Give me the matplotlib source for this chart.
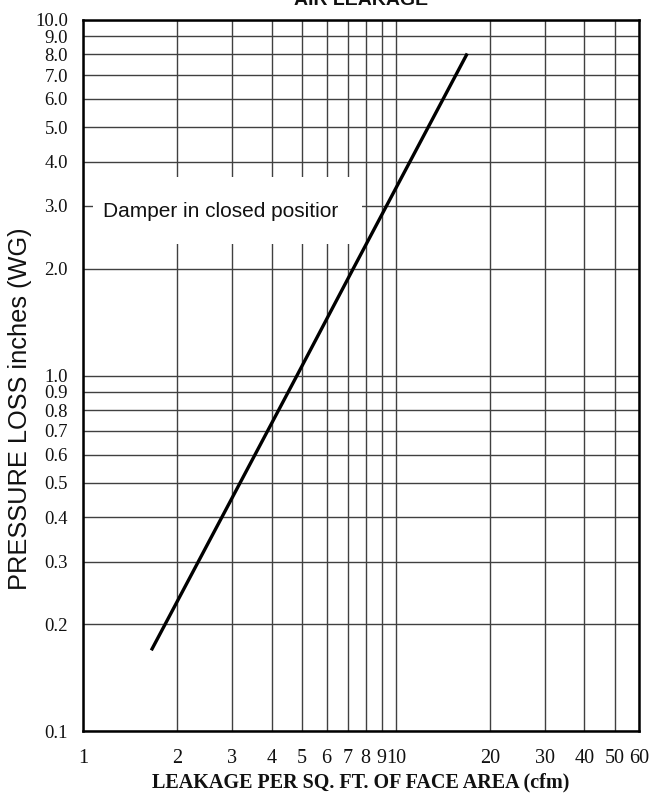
import matplotlib
matplotlib.use("Agg")
import matplotlib.pyplot as plt
from matplotlib.patches import Rectangle
from matplotlib.ticker import FixedLocator, NullLocator
from matplotlib.transforms import ScaledTranslation

# Data
leakage_cfm = [1.65, 4.82, 7.3, 16.9]
pressure_wg = [0.169, 1.0, 2.0, 8.05]

x_ticks = [1, 2, 3, 4, 5, 6, 7, 8, 9, 10, 20, 30, 40, 50, 60]
x_tick_labels = ["1", "2", "3", "4", "5", "6", "7", "8", "9", "10", "20", "30", "40", "50", "60"]
y_ticks = [0.1, 0.2, 0.3, 0.4, 0.5, 0.6, 0.7, 0.8, 0.9, 1.0,
           2.0, 3.0, 4.0, 5.0, 6.0, 7.0, 8.0, 9.0, 10.0]
y_tick_labels = ["0.1", "0.2", "0.3", "0.4", "0.5", "0.6", "0.7", "0.8", "0.9", "1.0",
                 "2.0", "3.0", "4.0", "5.0", "6.0", "7.0", "8.0", "9.0", "10.0"]

title = "AIR LEAKAGE"
x_label = "LEAKAGE PER SQ. FT. OF FACE AREA (cfm)"
y_label = "PRESSURE LOSS inches (WG)"
note = "Damper in closed positior"

W, H = 672, 799
fig = plt.figure(figsize=(W / 100, H / 100), dpi=100)
left, right, top, bottom = 83.3, 639.3, 20.0, 731.4
ax = fig.add_axes([left / W, 1 - bottom / H, (right - left) / W, (bottom - top) / H])

ax.set_xscale("log")
ax.set_yscale("log")
ax.set_xlim(1, 60)
ax.set_ylim(0.1, 10)

ax.xaxis.set_major_locator(FixedLocator(x_ticks))
ax.xaxis.set_minor_locator(NullLocator())
ax.yaxis.set_major_locator(FixedLocator(y_ticks))
ax.yaxis.set_minor_locator(NullLocator())
ax.set_xticklabels(x_tick_labels)
ax.set_yticklabels(y_tick_labels)

serif = ["Liberation Serif", "DejaVu Serif"]
sans = ["Liberation Sans", "DejaVu Sans"]
for lab in ax.get_xticklabels():
    lab.set_fontfamily(serif)
    lab.set_fontsize(14.5)
    lab.set_color("#111111")
shift_up = ScaledTranslation(0, 3 / 100, fig.dpi_scale_trans)
for lab in ax.get_yticklabels():
    lab.set_fontfamily(serif)
    lab.set_fontsize(13.5)
    lab.set_color("#111111")
    lab.set_transform(lab.get_transform() + shift_up)
ax.tick_params(axis="both", length=0)
ax.tick_params(axis="x", pad=13)
ax.tick_params(axis="y", pad=11)

ax.grid(True, which="major", color="#404040", linewidth=1.0, zorder=1)
ax.set_axisbelow(True)
for s in ax.spines.values():
    s.set_linewidth(1.8)
    s.set_color("black")
    s.set_zorder(5)

# white label box covering grid
ax.add_patch(Rectangle((0.0174, 0.685), 0.484, 0.094, transform=ax.transAxes,
                       facecolor="white", edgecolor="none", zorder=2))
ax.text(0.035, 0.7305, note, transform=ax.transAxes, ha="left", va="center",
        fontsize=15, family=sans, color="#111111", zorder=3)

ax.plot(leakage_cfm, pressure_wg, color="black", linewidth=2.4,
        solid_capstyle="butt", zorder=4)

fig.text(20 / W, 1 - 409 / H, y_label, rotation=90, ha="center", va="center",
         fontsize=18.3, family=sans, color="#111111")
fig.text(361 / W, 1 - 782 / H, x_label, ha="center", va="center",
         fontsize=14.5, family=serif, fontweight="bold", color="#111111")
fig.text(361 / W, 1 - 5 / H, title, ha="center", va="baseline",
         fontsize=14, family=sans, fontweight="bold", color="#111111")

fig.savefig("out.png", dpi=100)
